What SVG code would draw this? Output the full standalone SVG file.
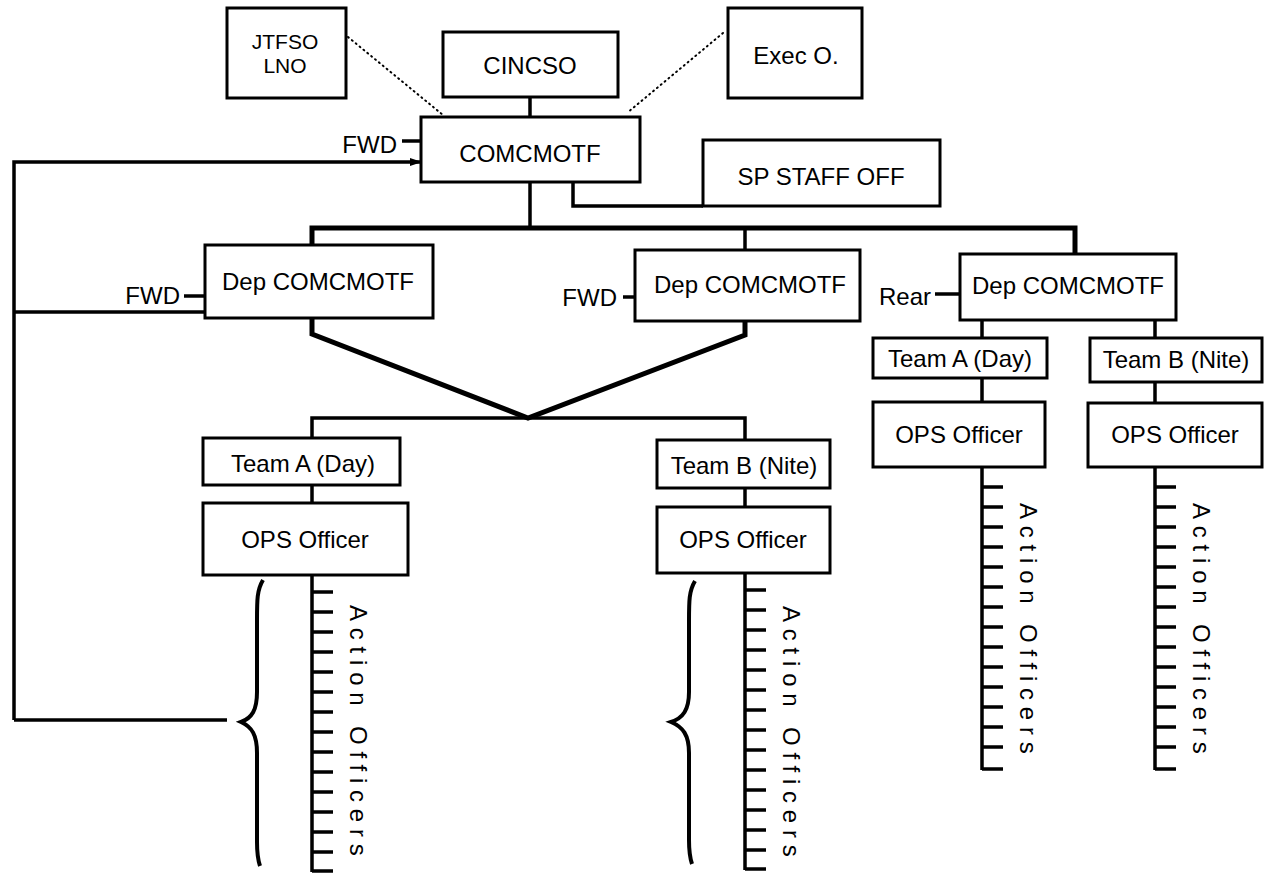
<svg xmlns="http://www.w3.org/2000/svg" width="1264" height="877" viewBox="0 0 1264 877">
<defs>
<style>
.box{fill:#fff;stroke:#000;stroke-width:3}
.t{font-family:"Liberation Sans",Arial,sans-serif;font-size:24px;fill:#000;text-anchor:middle}
.ts{font-family:"Liberation Sans",Arial,sans-serif;font-size:21px;fill:#000;text-anchor:middle}
.l{font-family:"Liberation Sans",Arial,sans-serif;font-size:24px;fill:#000;text-anchor:end}
.ao{font-family:"Liberation Sans",Arial,sans-serif;font-size:24px;fill:#000;letter-spacing:6.8px}
.c{fill:none;stroke:#000;stroke-width:3.5;stroke-linejoin:miter}
.thick{fill:none;stroke:#000;stroke-width:5}
.dot{fill:none;stroke:#000;stroke-width:2;stroke-dasharray:1 4;stroke-linecap:round}
.tick{fill:none;stroke:#000;stroke-width:3.5}
.brace{fill:none;stroke:#000;stroke-width:4}
</style>
<marker id="arr" markerWidth="12" markerHeight="10" refX="11" refY="5" orient="auto" markerUnits="userSpaceOnUse">
<path d="M0,1 L12,5 L0,9 Z" fill="#000"/>
</marker>
<path id="ladL" d="M0,0 V297 M0,17 h21 M0,37 h21 M0,57 h21 M0,77 h21 M0,97 h21 M0,117 h21 M0,137 h21 M0,157 h21 M0,177 h21 M0,197 h21 M0,217 h21 M0,237 h21 M0,257 h21 M0,277 h21 M0,296 h21"/>
<path id="ladR" d="M0,0 V303 M0,20 h21 M0,40 h21 M0,60 h21 M0,80 h21 M0,100 h21 M0,120 h21 M0,140 h21 M0,160 h21 M0,180 h21 M0,200 h21 M0,220 h21 M0,240 h21 M0,260 h21 M0,280 h21 M0,302 h21"/>
</defs>

<g id="connectors">
<path class="dot" d="M348,37 L443,115"/>
<path class="dot" d="M723,33 L627,113"/>
<path class="c" d="M530,97 V117"/>
<path class="c" d="M530,182 V228"/>
<path class="c" d="M573,182 V206 H703"/>
<path class="thick" d="M312,245 V228 H1075 V254"/>
<path class="c" d="M745,228 V250"/>
<path class="c" d="M14,720 V162 H421" marker-end="url(#arr)"/>
<path class="c" d="M14,720 H227"/>
<path class="c" d="M14,312 H205"/>
<path class="c" d="M402,141 H421"/>
<path class="c" d="M184,296 H205"/>
<path class="c" d="M623,297 H635"/>
<path class="c" d="M935,294 H960"/>
<path class="thick" d="M312,318 V334 L528,418 L745,335 V321"/>
<path class="c" d="M312,438 V418 H745 V440"/>
<path class="c" d="M312,485 V503"/>
<path class="c" d="M745,488 V507"/>
<path class="c" d="M982,320 V338 M982,378 V402"/>
<path class="c" d="M1155,320 V338 M1155,382 V403"/>
<use href="#ladL" class="tick" x="312" y="575"/>
<use href="#ladL" class="tick" x="745" y="573"/>
<use href="#ladR" class="tick" x="982" y="467"/>
<use href="#ladR" class="tick" x="1155" y="467"/>
<path class="brace" d="M263,580 C257,590 257,600 257,620 L257,692 C257,710 252,718 241,722 C252,727 257,735 257,753 L257,842 C257,853 258,860 260,866"/>
<path class="brace" d="M695,581 C689,591 689,601 689,621 L689,692 C689,710 683,718 671,722 C683,727 689,735 689,753 L689,840 C689,851 690,858 692,864"/>
</g>

<g id="labels">
<text class="l" x="397" y="153">FWD</text>
<text class="l" x="180" y="304">FWD</text>
<text class="l" x="617" y="306">FWD</text>
<text class="l" x="931" y="305">Rear</text>
<text class="ao" transform="translate(350,605) rotate(90)">Action Officers</text>
<text class="ao" transform="translate(783,606) rotate(90)">Action Officers</text>
<text class="ao" transform="translate(1020,503) rotate(90)">Action Officers</text>
<text class="ao" transform="translate(1193,503) rotate(90)">Action Officers</text>
</g>

<g id="jtfso"><rect class="box" x="227" y="8" width="119" height="90"/><text class="ts" x="285" y="49">JTFSO</text><text class="ts" x="285" y="73">LNO</text></g>
<g id="cincso"><rect class="box" x="443" y="32" width="175" height="65"/><text class="t" x="530" y="74">CINCSO</text></g>
<g id="execo"><rect class="box" x="728" y="8" width="134" height="90"/><text class="t" x="796" y="64">Exec O.</text></g>
<g id="comcmotf"><rect class="box" x="421" y="117" width="219" height="65"/><text class="t" x="530" y="162">COMCMOTF</text></g>
<g id="spstaff"><rect class="box" x="703" y="140" width="237" height="66"/><text class="t" x="821" y="185">SP STAFF OFF</text></g>
<g id="dep1"><rect class="box" x="205" y="245" width="228" height="73"/><text class="t" x="318" y="290">Dep COMCMOTF</text></g>
<g id="dep2"><rect class="box" x="635" y="250" width="225" height="71"/><text class="t" x="750" y="293">Dep COMCMOTF</text></g>
<g id="dep3"><rect class="box" x="960" y="254" width="216" height="66"/><text class="t" x="1068" y="294">Dep COMCMOTF</text></g>
<g id="teamA1"><rect class="box" x="203" y="438" width="197" height="47"/><text class="t" x="303" y="472">Team A (Day)</text></g>
<g id="ops1"><rect class="box" x="203" y="503" width="205" height="72"/><text class="t" x="305" y="548">OPS Officer</text></g>
<g id="teamB1"><rect class="box" x="657" y="440" width="173" height="48"/><text class="t" x="744" y="474">Team B (Nite)</text></g>
<g id="ops2"><rect class="box" x="657" y="507" width="173" height="66"/><text class="t" x="743" y="548">OPS Officer</text></g>
<g id="teamA2"><rect class="box" x="873" y="338" width="174" height="40"/><text class="t" x="960" y="367">Team A (Day)</text></g>
<g id="ops3"><rect class="box" x="873" y="402" width="172" height="65"/><text class="t" x="959" y="443">OPS Officer</text></g>
<g id="teamB2"><rect class="box" x="1090" y="338" width="172" height="44"/><text class="t" x="1176" y="368">Team B (Nite)</text></g>
<g id="ops4"><rect class="box" x="1088" y="403" width="174" height="64"/><text class="t" x="1175" y="443">OPS Officer</text></g>
</svg>
